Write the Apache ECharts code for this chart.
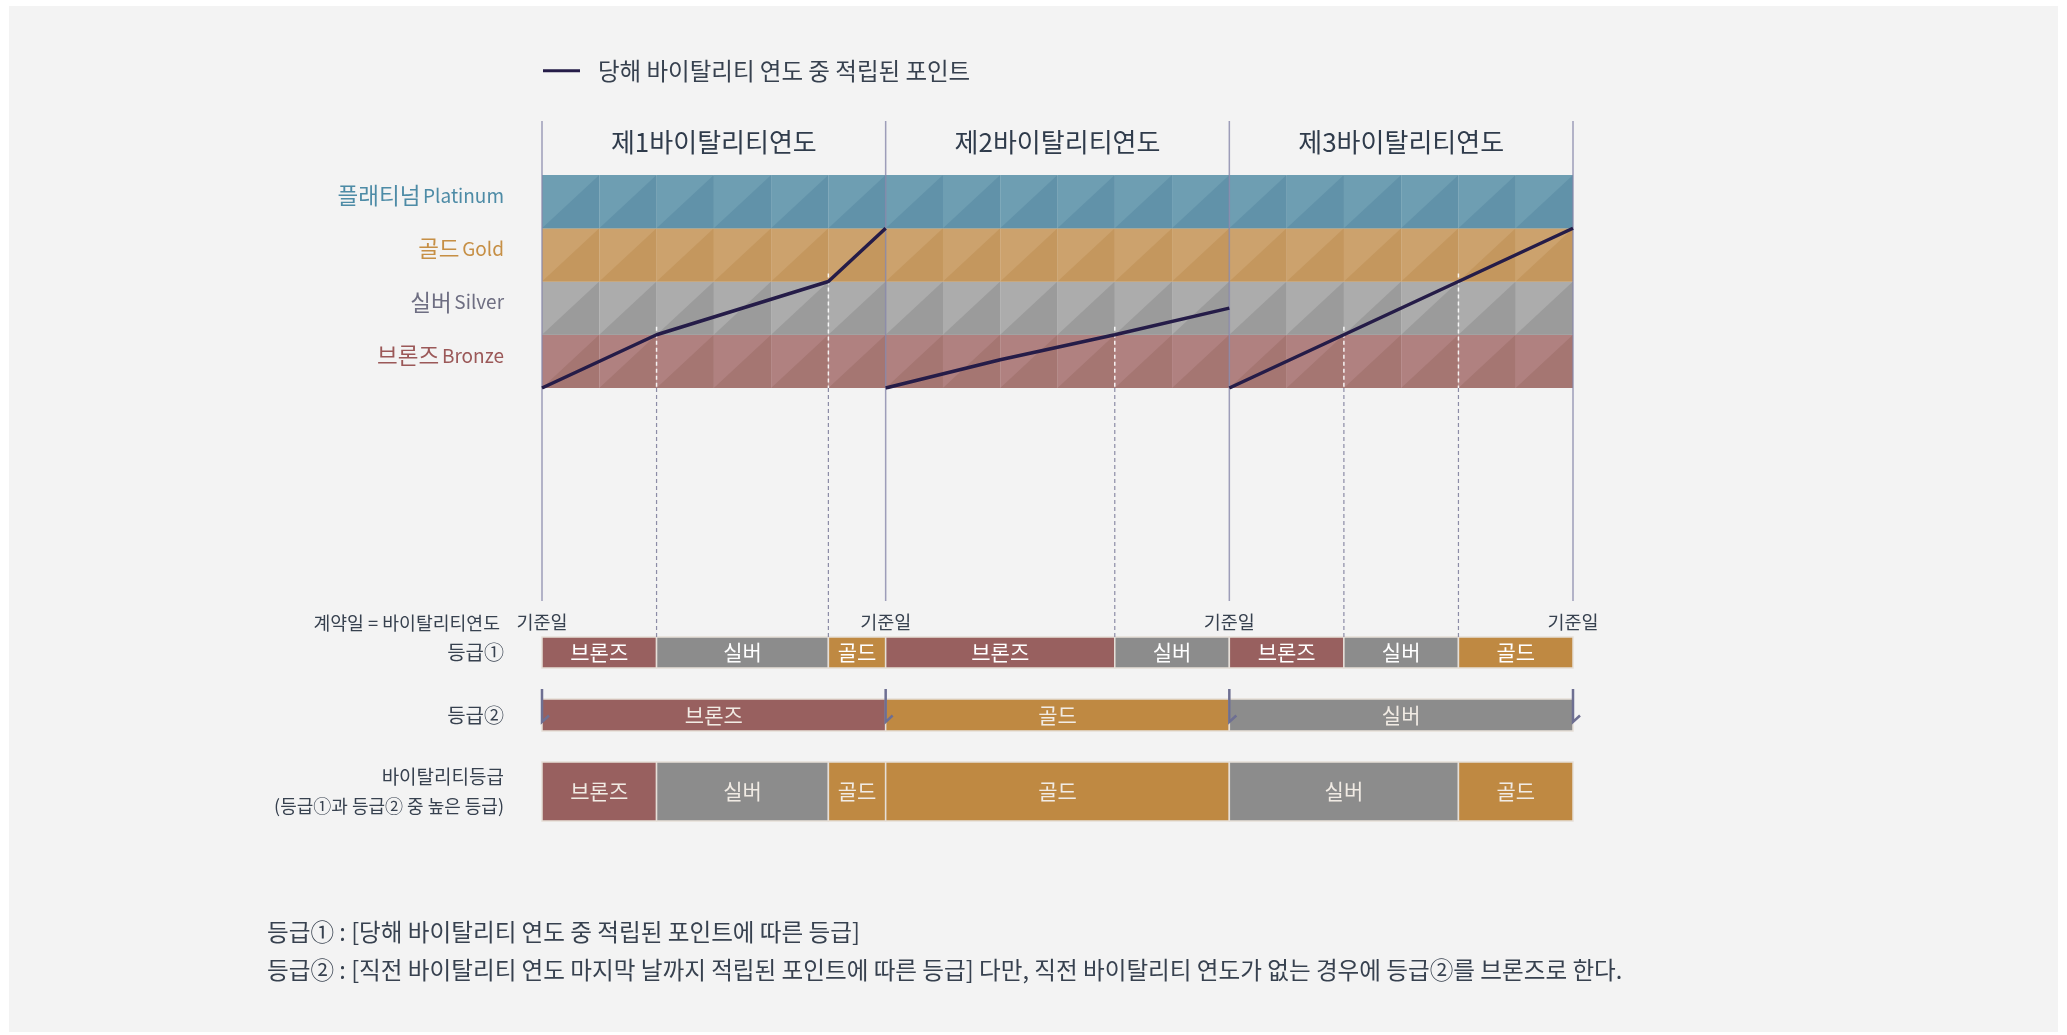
<!DOCTYPE html>
<html><head><meta charset="utf-8">
<script src="https://cdn.jsdelivr.net/npm/echarts@6/dist/echarts.min.js"></script>
<style>
html,body{margin:0;padding:0;background:#ffffff;}
#panel{position:absolute;left:9px;top:6px;width:2049px;height:1026px;background:#f3f3f3;}
#c{position:absolute;left:0;top:0;width:2067px;height:1035px;}
</style>
</head><body><div id="panel"></div><div id="c"></div>
<script>
// ---------- data ----------
const tiers = ['브론즈', '실버', '골드', '플래티넘'];
const tiersEn = ['Bronze', 'Silver', 'Gold', 'Platinum'];
const yearTitles = ['제1바이탈리티연도', '제2바이탈리티연도', '제3바이탈리티연도'];
const yearBoundaries = [0, 12, 24, 36];          // months
const pointsYear1 = [[0, 0], [4, 1], [10, 2], [12, 3]];
const pointsYear2 = [[12, 0], [16, 0.53], [20, 1], [24, 1.5]];
const pointsYear3 = [[24, 0], [28, 1], [32, 2], [36, 3]];
const gradeChangePoints = [[4, 1], [10, 2], [20, 1], [28, 1], [32, 2]];
// [start month, end month, tier index]
const grade1 = [[0, 4, 0], [4, 10, 1], [10, 12, 2], [12, 20, 0], [20, 24, 1], [24, 28, 0], [28, 32, 1], [32, 36, 2]];
const grade2 = [[0, 12, 0], [12, 24, 2], [24, 36, 1]];
const vitality = [[0, 4, 0], [4, 10, 1], [10, 12, 2], [12, 24, 2], [24, 32, 1], [32, 36, 2]];
const legendName = '당해 바이탈리티 연도 중 적립된 포인트';
const baseDayLabel = '기준일';
const contractLabel = '계약일 = 바이탈리티연도';
const rowLabels = ['등급①', '등급②', '바이탈리티등급', '(등급①과 등급② 중 높은 등급)'];
const notes = [
  '등급① : [당해 바이탈리티 연도 중 적립된 포인트에 따른 등급]',
  '등급② : [직전 바이탈리티 연도 마지막 날까지 적립된 포인트에 따른 등급] 다만, 직전 바이탈리티 연도가 없는 경우에 등급②를 브론즈로 한다.'
];

// ---------- styles / layout ----------
const FONT = '"Noto Sans CJK KR", "Noto Sans", sans-serif';
const TEXT = '#37414f';
const bandLight = ['#b08180', '#acacac', '#cca26d', '#6e9eb2'];
const bandDark  = ['#a57672', '#9b9b9b', '#c4975e', '#6192a9'];
const labelColors = ['#9b5858', '#6e6e82', '#c68f45', '#4d8ba6'];
const barColors = ['#98605f', '#8c8c8c', '#bf8942', '#5f90a8'];
const LEFT = 542, RIGHT = 2067 - 1573;
const BAND_TOP = 175, BAND_H = 213;
const ROW1_TOP = 637, ROW1_H = 31;
const ROW2_TOP = 699, ROW2_H = 32;
const ROW3_TOP = 762, ROW3_H = 59;
const SEP_ABOVE = 54, SEP_BELOW = 213;

const cells = [];
for (let t = 0; t < tiers.length; t++)
  for (let m = 0; m < 36; m += 2) cells.push([m, m + 2, t]);

const chart = echarts.init(document.getElementById('c'), null, {renderer: 'canvas'});

function hiddenValueX(gi, extra) {
  return Object.assign({type: 'value', gridIndex: gi, min: 0, max: 36,
    axisLine: {show: false}, axisTick: {show: false}, axisLabel: {show: false}, splitLine: {show: false}}, extra || {});
}

function segRender(data, textColor, fontSize) {
  return function (params, api) {
    const d = data[params.dataIndex];
    const a = api.coord([d[0], 0]);
    const b = api.coord([d[1], 0]);
    const h = api.size([0, 1])[1];
    const top = a[1] - h / 2;
    return {type: 'group', children: [
      {type: 'rect', shape: {x: a[0], y: top, width: b[0] - a[0], height: h},
        style: {fill: barColors[d[2]], stroke: '#e6dfd8', lineWidth: 1.5}},
      {type: 'text', style: {text: tiers[d[2]], x: (a[0] + b[0]) / 2, y: a[1],
        align: 'center', verticalAlign: 'middle', fill: textColor, font: fontSize + 'px ' + FONT}}
    ]};
  };
}

const option = {
  backgroundColor: 'transparent',
  textStyle: {fontFamily: FONT},
  animation: false,
  title: {
    text: notes.join('\n'), left: 267, top: 913, padding: 0,
    textStyle: {fontFamily: FONT, fontSize: 23.6, fontWeight: 'normal', color: TEXT, lineHeight: 38}
  },
  legend: {
    left: 543, top: 59, padding: 0, icon: 'rect', itemWidth: 37, itemHeight: 3,
    data: [legendName],
    textStyle: {fontFamily: FONT, fontSize: 23.5, color: TEXT, padding: [0, 0, 0, 13]}
  },
  grid: [
    {left: LEFT, right: RIGHT, top: BAND_TOP, height: BAND_H},
    {left: LEFT, right: RIGHT, top: ROW1_TOP, height: ROW1_H},
    {left: LEFT, right: RIGHT, top: ROW2_TOP, height: ROW2_H},
    {left: LEFT, right: RIGHT, top: ROW3_TOP, height: ROW3_H}
  ],
  xAxis: [
    hiddenValueX(0),
    {type: 'category', gridIndex: 0, position: 'top', data: yearTitles,
      axisLine: {show: false}, axisTick: {show: false}, splitLine: {show: false},
      axisLabel: {fontFamily: FONT, fontSize: 26, color: '#2f3b4b', margin: 20}},
    hiddenValueX(1, {position: 'top', interval: 12,
      axisLabel: {show: true, fontFamily: FONT, fontSize: 18.5, color: TEXT, margin: 6,
        showMinLabel: true, showMaxLabel: true, formatter: () => baseDayLabel}}),
    hiddenValueX(2),
    hiddenValueX(3)
  ],
  yAxis: [
    {type: 'value', gridIndex: 0, min: 0, max: 4, interval: 1,
      axisLine: {show: false}, axisTick: {show: false}, axisLabel: {show: false}, splitLine: {show: false}},
    {type: 'category', gridIndex: 0, position: 'left', data: tiers,
      axisLine: {show: false}, axisTick: {show: false}, splitLine: {show: false},
      axisLabel: {margin: 38, padding: [0, 0, 12, 0],
        formatter: (v, i) => '{k' + i + '|' + v + '} {e' + i + '|' + tiersEn[i] + '}',
        rich: Object.assign({}, ...tiers.map((t, i) => ({
          ['k' + i]: {fontFamily: FONT, fontSize: 22.5, color: labelColors[i]},
          ['e' + i]: {fontFamily: FONT, fontSize: 19, color: labelColors[i]}
        })))}},
    {type: 'category', gridIndex: 1, data: [rowLabels[0]],
      axisLine: {show: false}, axisTick: {show: false},
      axisLabel: {margin: 38, fontFamily: FONT, fontSize: 20, color: TEXT},
      name: contractLabel, nameLocation: 'end', nameGap: 14,
      nameTextStyle: {fontFamily: FONT, fontSize: 18.3, color: TEXT, align: 'right', verticalAlign: 'middle', padding: [0, 42, 0, 0]}},
    {type: 'category', gridIndex: 2, data: [rowLabels[1]],
      axisLine: {show: false}, axisTick: {show: false},
      axisLabel: {margin: 38, fontFamily: FONT, fontSize: 20, color: TEXT}},
    {type: 'category', gridIndex: 3, data: [rowLabels[2]],
      axisLine: {show: false}, axisTick: {show: false},
      axisLabel: {margin: 38, align: 'right',
        formatter: v => '{a|' + v + '}\n{b|' + rowLabels[3] + '}',
        rich: {a: {fontFamily: FONT, fontSize: 19, color: TEXT, lineHeight: 30, align: 'right'},
               b: {fontFamily: FONT, fontSize: 18, color: TEXT, lineHeight: 30, align: 'right'}}}}
  ],
  series: [
    { // band pattern
      type: 'custom', xAxisIndex: 0, yAxisIndex: 0, silent: true, z: 1,
      data: cells, encode: {x: [0, 1], y: 2},
      renderItem: (params, api) => {
        const x0 = api.value(0), x1 = api.value(1), t = api.value(2);
        const p0 = api.coord([x0, t + 1]), p1 = api.coord([x1, t]);
        return {type: 'group', children: [
          {type: 'rect', shape: {x: p0[0], y: p0[1], width: p1[0] - p0[0], height: p1[1] - p0[1]},
            style: {fill: bandLight[t]}},
          {type: 'polygon', shape: {points: [[p0[0], p1[1]], [p1[0], p1[1]], [p1[0], p0[1]]]},
            style: {fill: bandDark[t]}}
        ]};
      }
    },
    { // year separators
      type: 'custom', xAxisIndex: 0, yAxisIndex: 0, silent: true, z: 3,
      data: yearBoundaries.map(v => [v]), encode: {x: 0},
      renderItem: (params, api) => {
        const x = api.value(0);
        const t = api.coord([x, 4]), b = api.coord([x, 0]);
        return {type: 'line', shape: {x1: t[0], y1: t[1] - SEP_ABOVE, x2: t[0], y2: b[1] + SEP_BELOW},
          style: {stroke: 'rgba(135,135,170,0.8)', lineWidth: 1.5}};
      }
    },
    { // drop lines at grade changes
      type: 'custom', xAxisIndex: 0, yAxisIndex: 0, silent: true, z: 4,
      data: gradeChangePoints, encode: {x: 0, y: 1},
      renderItem: (params, api) => {
        const p = api.coord([api.value(0), api.value(1)]);
        const b = api.coord([api.value(0), 0]);
        return {type: 'group', children: [
          {type: 'line', shape: {x1: p[0], y1: p[1] - 8, x2: p[0], y2: b[1]},
            style: {stroke: 'rgba(255,255,255,0.9)', lineWidth: 1.5, lineDash: [4, 3]}},
          {type: 'line', shape: {x1: p[0], y1: b[1], x2: p[0], y2: ROW1_TOP},
            style: {stroke: '#8c8ca6', lineWidth: 1.2, lineDash: [4, 3]}}
        ]};
      }
    },
    {type: 'line', name: legendName, xAxisIndex: 0, yAxisIndex: 0, data: pointsYear1, symbol: 'none', z: 5,
      color: '#251c48', lineStyle: {color: '#251c48', width: 3.5}},
    {type: 'line', name: legendName, xAxisIndex: 0, yAxisIndex: 0, data: pointsYear2, symbol: 'none', z: 5,
      color: '#251c48', lineStyle: {color: '#251c48', width: 3.5}},
    {type: 'line', name: legendName, xAxisIndex: 0, yAxisIndex: 0, data: pointsYear3, symbol: 'none', z: 5,
      color: '#251c48', lineStyle: {color: '#251c48', width: 3.5}},
    {type: 'custom', xAxisIndex: 2, yAxisIndex: 2, silent: true, data: grade1, encode: {x: [0, 1]},
      renderItem: segRender(grade1, '#ffffff', 21)},
    {type: 'custom', xAxisIndex: 3, yAxisIndex: 3, silent: true, data: grade2, encode: {x: [0, 1]},
      renderItem: segRender(grade2, '#f1ebe4', 21)},
    { // hooks on grade 2 row
      type: 'custom', xAxisIndex: 3, yAxisIndex: 3, silent: true, z: 4,
      data: yearBoundaries.map(v => [v]), encode: {x: 0},
      renderItem: (params, api) => {
        const c = api.coord([api.value(0), 0]);
        const h = api.size([0, 1])[1];
        const top = c[1] - h / 2;
        return {type: 'polyline', shape: {points: [[c[0], top - 10], [c[0], top + 23], [c[0] + 7, top + 16.5]]},
          style: {stroke: '#6e6f92', lineWidth: 2.5, fill: null}};
      }
    },
    {type: 'custom', xAxisIndex: 4, yAxisIndex: 4, silent: true, data: vitality, encode: {x: [0, 1]},
      renderItem: segRender(vitality, '#f1ebe4', 21)}
  ]
};
chart.setOption(option);
</script>
</body></html>
